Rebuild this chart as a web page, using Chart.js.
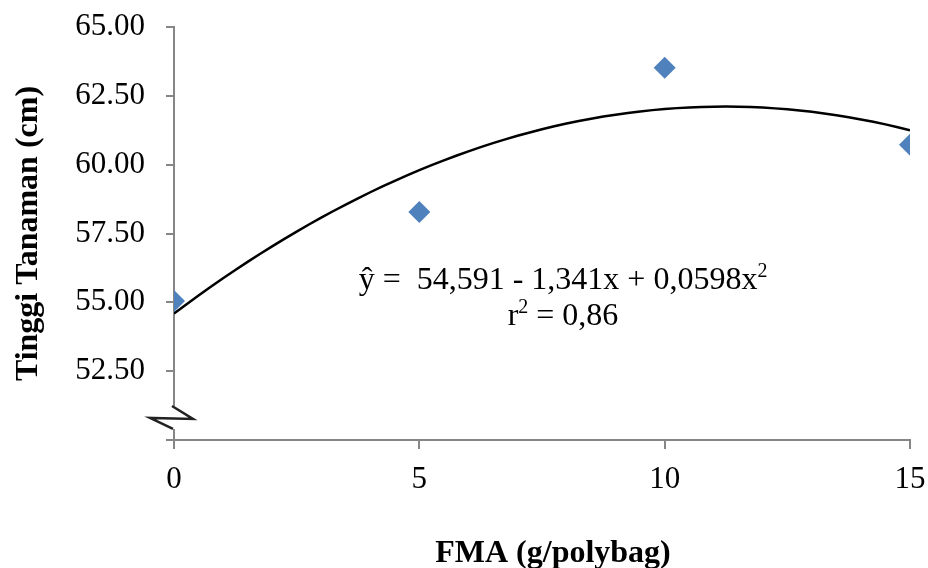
<!DOCTYPE html>
<html>
<head>
<meta charset="utf-8">
<script src="https://cdn.jsdelivr.net/npm/chart.js@4/dist/chart.umd.min.js"></script>
<style>
  html, body { margin: 0; padding: 0; background: #fff; }
</style>
</head>
<body>
<canvas id="myChart" width="928" height="568"></canvas>
<script>
let doses = [0, 5, 10, 15];                   // FMA (g/polybag)
let heights = [55.05, 58.28, 63.52, 60.72];   // tinggi tanaman (cm)
let xTicks = [0, 5, 10, 15];
let yTicks = [50, 52.5, 55, 57.5, 60, 62.5, 65];
// trend curve y = a + b*x + c*x^2
let trendCoef = [54.591, 1.341, -0.0598];

let serif = "'Liberation Serif', 'Times New Roman', serif";
let axisGray = '#868686';

// points along the trend curve
let trendPoints = [];
for (let x = 0; x <= 15; x += 0.25) {
    trendPoints.push({ x: x, y: trendCoef[0] + trendCoef[1] * x + trendCoef[2] * x * x });
}

// draw a line of text with superscript parts, centred on cx
function drawRich(ctx, parts, cx, baseline, size) {
    let widths = parts.map(p => {
        ctx.font = (p.sup ? Math.round(size * 0.62) : size) + 'px ' + serif;
        return ctx.measureText(p.t).width;
    });
    let total = widths.reduce((a, b) => a + b, 0);
    let x = cx - total / 2;
    parts.forEach((p, i) => {
        ctx.font = (p.sup ? Math.round(size * 0.62) : size) + 'px ' + serif;
        ctx.fillText(p.t, x, p.sup ? baseline - size * 0.36 : baseline);
        x += widths[i];
    });
}

const textPlugin = {
    id: 'textPlugin',
    afterDraw(chart) {
        const ctx = chart.ctx;
        const area = chart.chartArea;
        const yScale = chart.scales.y;

        // axis break on the y axis
        let x0 = area.left;
        let ym = yScale.getPixelForValue(50.8);
        ctx.save();
        ctx.fillStyle = '#fff';
        ctx.fillRect(x0 - 3, ym - 12, 6, 23);
        ctx.strokeStyle = '#222';
        ctx.lineWidth = 2.5;
        ctx.beginPath();
        ctx.moveTo(x0 - 2, ym - 12);
        ctx.lineTo(x0 + 19, ym + 1);
        ctx.lineTo(x0 - 24, ym);
        ctx.lineTo(x0 - 1, ym + 11);
        ctx.stroke();

        // regression equation
        ctx.fillStyle = '#000';
        ctx.textAlign = 'left';
        ctx.textBaseline = 'alphabetic';
        drawRich(ctx, [{ t: 'ŷ =  54,591 - 1,341x + 0,0598x' }, { t: '2', sup: true }], 563, 289, 32);
        drawRich(ctx, [{ t: 'r' }, { t: '2', sup: true }, { t: ' = 0,86' }], 563, 325, 32);

        // x axis title
        ctx.font = 'bold 32px ' + serif;
        ctx.textAlign = 'center';
        ctx.fillText('FMA (g/polybag)', 553, 562);
        ctx.restore();
    }
};

const chart = document.getElementById('myChart').getContext('2d');
const myChart = new Chart(chart, {
    type: 'scatter',
    data: {
        datasets: [{
            label: 'Tinggi Tanaman',
            data: doses.map((d, i) => ({ x: d, y: heights[i] })),
            pointStyle: 'rectRot',
            pointRadius: 11,
            pointHoverRadius: 11,
            backgroundColor: '#4F81BD',
            borderColor: '#4F81BD',
            borderWidth: 0,
            order: 1
        }, {
            label: 'Trend',
            type: 'line',
            data: trendPoints,
            borderColor: '#000',
            borderWidth: 2.5,
            pointRadius: 0,
            fill: false,
            tension: 0,
            order: 2
        }]
    },
    options: {
        responsive: false,
        animation: false,
        devicePixelRatio: 1,
        layout: { padding: { top: 27, right: 18, left: 10, bottom: 0 } },
        plugins: {
            legend: { display: false },
            tooltip: { enabled: false }
        },
        scales: {
            x: {
                type: 'linear',
                min: 0,
                max: 15,
                afterBuildTicks: scale => { scale.ticks = xTicks.map(v => ({ value: v })); },
                afterFit: scale => {
                    scale.height = 128;
                    scale.paddingLeft = 0;
                    scale.paddingRight = 0;
                },
                ticks: {
                    color: '#000',
                    padding: 12,
                    font: { family: serif, size: 31 },
                    callback: v => String(v)
                },
                grid: { drawOnChartArea: false, tickLength: 9, tickColor: axisGray, lineWidth: 2 },
                border: { color: axisGray, width: 2 }
            },
            y: {
                type: 'linear',
                min: 50,
                max: 65,
                afterBuildTicks: scale => { scale.ticks = yTicks.map(v => ({ value: v })); },
                afterFit: scale => {
                    scale.width = 164;
                    scale.paddingTop = 0;
                    scale.paddingBottom = 0;
                },
                ticks: {
                    color: '#000',
                    padding: 21,
                    font: { family: serif, size: 31 },
                    callback: v => (v === 50 ? '' : v.toFixed(2))
                },
                grid: { drawOnChartArea: false, tickLength: 8, tickColor: axisGray, lineWidth: 2 },
                border: { color: axisGray, width: 2 },
                title: {
                    display: true,
                    text: 'Tinggi Tanaman (cm)',
                    color: '#000',
                    padding: 0,
                    font: { family: serif, size: 32, weight: 'bold' }
                }
            }
        }
    },
    plugins: [textPlugin]
});
</script>
</body>
</html>
